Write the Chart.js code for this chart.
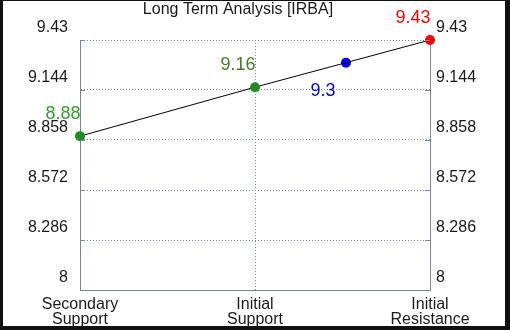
<!DOCTYPE html>
<html>
<head>
<meta charset="utf-8">
<script src="https://cdn.jsdelivr.net/npm/chart.js@4/dist/chart.umd.min.js"></script>
<style>
html,body{margin:0;padding:0;background:#fff;}
canvas{display:block;}
</style>
</head>
<body>
<canvas id="c" width="510" height="330"></canvas>
<script>
// ---- data ----
const chartTitle = 'Long Term Analysis [IRBA]';
const categories = [['Secondary', 'Support'], ['Initial', 'Support'], ['Initial', 'Resistance']];
const levelValues = [8.88, 9.16, 9.43];
const levelLabels = ['8.88', '9.16', '9.43'];
const currentValue = [9.3];
const currentPosition = [1.52];
const currentLabels = ['9.3'];
const yTicks = [8, 8.286, 8.572, 8.858, 9.144, 9.43];

// ---- styles ----
const FONT = "'Liberation Sans', Arial, sans-serif";
const AXIS = '#7088a8';
const levelPointColors = ['#228b22', '#228b22', '#ff0000'];
const levelLabelColors = ['#2ea12e', '#3f7f1f', '#ff0000'];
const currentColor = '#0000ff';

const frame = {
  id: 'frame',
  beforeDraw(chart) {
    const c = chart.ctx;
    c.save();
    c.fillStyle = '#111';
    c.fillRect(0, 0, chart.width, chart.height);
    c.fillStyle = '#fff';
    c.fillRect(3, 1, 502, 325);
    c.restore();
  },
  afterDatasetsDraw(chart) {
    const c = chart.ctx, a = chart.chartArea;
    c.save();
    // title
    c.font = '16px ' + FONT;
    c.fillStyle = '#1a1a1a';
    c.textAlign = 'center';
    c.textBaseline = 'middle';
    c.fillText(chartTitle, 238, 10);
    // inner tick marks
    c.strokeStyle = AXIS;
    c.lineWidth = 1;
    const ys = chart.scales.y;
    yTicks.forEach(v => {
      const p = Math.round(ys.getPixelForValue(v)) + 0.5;
      c.beginPath();
      c.moveTo(a.left, p); c.lineTo(a.left + 5, p);
      c.moveTo(a.right - 5, p); c.lineTo(a.right, p);
      c.stroke();
    });
    // data labels
    c.font = '18px ' + FONT;
    c.textAlign = 'center';
    c.textBaseline = 'middle';
    const m0 = chart.getDatasetMeta(0).data;
    m0.forEach((pt, i) => {
      c.fillStyle = levelLabelColors[i];
      c.fillText(levelLabels[i], pt.x - 17, pt.y - 22);
    });
    const m1 = chart.getDatasetMeta(1).data;
    m1.forEach((pt, i) => {
      c.fillStyle = currentColor;
      c.fillText(currentLabels[i], pt.x - 23, pt.y + 28);
    });
    c.restore();
  }
};

new Chart(document.getElementById('c'), {
  type: 'line',
  data: {
    datasets: [
      {
        data: levelValues.map((v, i) => ({ x: i, y: v })),
        borderColor: '#000',
        borderWidth: 1,
        pointRadius: 5,
        pointHoverRadius: 5,
        pointBackgroundColor: levelPointColors,
        pointBorderColor: levelPointColors,
        pointBorderWidth: 0,
        tension: 0,
        fill: false,
        clip: false
      },
      {
        data: currentValue.map((v, i) => ({ x: currentPosition[i], y: v })),
        showLine: false,
        pointRadius: 5,
        pointHoverRadius: 5,
        pointBackgroundColor: currentColor,
        pointBorderColor: currentColor,
        pointBorderWidth: 0,
        clip: false
      }
    ]
  },
  options: {
    responsive: false,
    animation: false,
    devicePixelRatio: 1,
    layout: { padding: { top: 40, left: 0, right: 0, bottom: 0 } },
    plugins: { legend: { display: false }, tooltip: { enabled: false }, title: { display: false } },
    scales: {
      x: {
        type: 'linear',
        min: 0, max: 2,
        afterBuildTicks(s) { s.ticks = categories.map((c, i) => ({ value: i })); },
        afterFit(s) { s.height = 40; },
        ticks: {
          callback: (v) => categories[v],
          font: { family: FONT, size: 16, lineHeight: 0.94 },
          color: '#1a1a1a',
          padding: 7,
          maxRotation: 0,
          autoSkip: false
        },
        grid: { color: AXIS, drawTicks: false, lineWidth: 1 },
        border: { display: true, color: AXIS, width: 1, dash: [1, 2] }
      },
      y: {
        position: 'left',
        min: 8, max: 9.43,
        afterBuildTicks(s) { s.ticks = yTicks.map(v => ({ value: v })); },
        afterFit(s) { s.width = 80; },
        ticks: {
          callback: (v) => String(v),
          font: { family: FONT, size: 16 },
          color: '#1a1a1a',
          padding: 12,
          labelOffset: -12
        },
        grid: { color: AXIS, drawTicks: false, lineWidth: 1 },
        border: { display: true, color: AXIS, width: 1, dash: [1, 2] }
      },
      y2: {
        position: 'right',
        min: 8, max: 9.43,
        afterBuildTicks(s) { s.ticks = yTicks.map(v => ({ value: v })); },
        afterFit(s) { s.width = 80; },
        ticks: {
          callback: (v) => String(v),
          font: { family: FONT, size: 16 },
          color: '#1a1a1a',
          padding: 6,
          labelOffset: -12
        },
        grid: { drawOnChartArea: false, drawTicks: false },
        border: { display: true, color: AXIS, width: 1 }
      }
    }
  },
  plugins: [frame]
});
</script>
</body>
</html>
